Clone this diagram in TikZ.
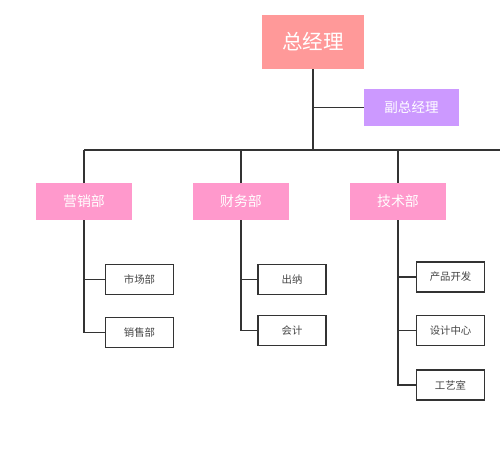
\documentclass[tikz,border=0pt]{standalone}
\usepackage{fontspec}
\setmainfont{Noto Sans CJK SC}
\usetikzlibrary{positioning, calc}

\definecolor{gmred}{HTML}{FF9999}
\definecolor{vgmpurple}{HTML}{CC99FF}
\definecolor{deptpink}{HTML}{FF99CC}
\definecolor{linegray}{HTML}{333333}
\definecolor{textgray}{HTML}{444444}

\tikzset{
    topbox/.style={fill=gmred, text=white, minimum width=2.04cm, minimum height=1.08cm,
        inner sep=0pt, font=\fontsize{11.7}{13}\selectfont},
    vicebox/.style={fill=vgmpurple, text=white, minimum width=1.9cm, minimum height=0.74cm,
        inner sep=0pt, font=\fontsize{7.7}{9}\selectfont},
    deptbox/.style={fill=deptpink, text=white, minimum width=1.92cm, minimum height=0.74cm,
        inner sep=0pt, font=\fontsize{7.9}{9}\selectfont},
    leafbox/.style={draw=linegray, line width=0.9pt, fill=white, text=textgray,
        minimum width=1.36cm, minimum height=0.6cm, inner sep=0pt,
        font=\fontsize{5.9}{7}\selectfont},
    link/.style={draw=linegray, line width=0.9pt},
}

\begin{document}
\begin{tikzpicture}[x=0.02cm, y=-0.02cm]

    % === Frame ===
    \useasboundingbox (0,0) rectangle (500,469);

    % === Top level ===
    \node[topbox] (gm) at (313,42) {总经理};
    \node[vicebox] (vgm) at (411.5,107.5) {副总经理};

    % === Departments ===
    \node[deptbox] (mkt) at (84,201.5) {营销部};
    \node[deptbox] (fin) at (241,201.5) {财务部};
    \node[deptbox] (tech) at (398,201.5) {技术部};

    % === Sections ===
    % Marketing
    \node[leafbox] (market) at (139.5,279.5) {市场部};
    \node[leafbox] (sales) at (139.5,332.5) {销售部};
    % Finance
    \node[leafbox] (cashier) at (292,279.5) {出纳};
    \node[leafbox] (account) at (292,330.5) {会计};
    % Technology
    \node[leafbox] (product) at (450.5,277) {产品开发};
    \node[leafbox] (design) at (450.5,330.5) {设计中心};
    \node[leafbox] (craft) at (450.5,385) {工艺室};

    % === Bus line ===
    \coordinate (bus) at (313,150);
    \coordinate (busL) at (84,150);
    \coordinate (busR) at (500,150);

    \path[link] (gm.south) -- (bus);
    \path[link] (gm.south |- vgm.west) -- (vgm.west);
    \path[link] (busL) -- (busR);

    % === Drops to departments ===
    \path[link] (mkt.north) -- (mkt.north |- bus);
    \path[link] (fin.north) -- (fin.north |- bus);
    \path[link] (tech.north) -- (tech.north |- bus);

    % === Department to sections ===
    \path[link] (mkt.south) |- (sales.west);
    \path[link] (mkt.south |- market.west) -- (market.west);

    \path[link] (fin.south) |- (account.west);
    \path[link] (fin.south |- cashier.west) -- (cashier.west);

    \path[link] (tech.south) |- (craft.west);
    \path[link] (tech.south |- product.west) -- (product.west);
    \path[link] (tech.south |- design.west) -- (design.west);

\end{tikzpicture}
\end{document}
